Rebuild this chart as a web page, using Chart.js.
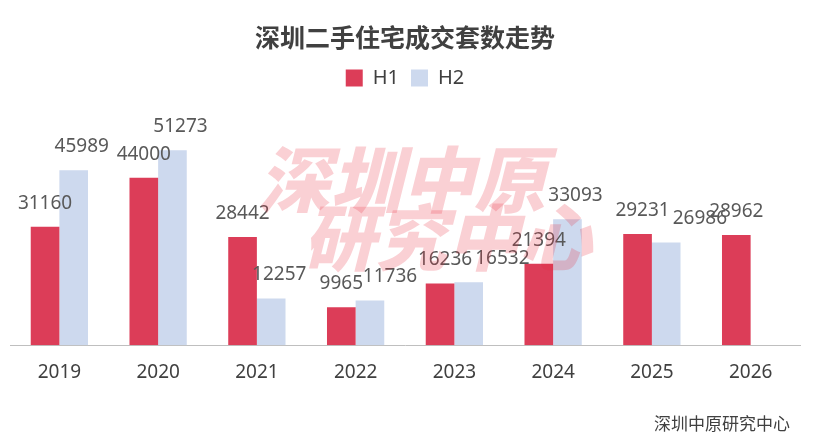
<!DOCTYPE html>
<html><head><meta charset="utf-8">
<script src="https://cdn.jsdelivr.net/npm/chart.js@4"></script>
<style>body{margin:0;background:#fff}</style>
</head><body><canvas id="c" width="815" height="441"></canvas>
<script>
const years = ['2019','2020','2021','2022','2023','2024','2025','2026'];
const h1 = [31160, 44000, 28442, 9965, 16236, 21394, 29231, 28962];
const h2 = [45989, 51273, 12257, 11736, 16532, 33093, 26986, null];

const labelsPlugin = {
  id: 'labels',
  afterDatasetsDraw(chart) {
    const ctx = chart.ctx;
    ctx.save();
    ctx.font = '19px "Noto Sans", sans-serif';
    ctx.fillStyle = '#595959';
    ctx.textAlign = 'center';
    ctx.textBaseline = 'bottom';
    const m1 = chart.getDatasetMeta(0).data, m2 = chart.getDatasetMeta(1).data;
    years.forEach((y, j) => {
      let x1 = m1[j].x, x2 = m2[j].x + 8;
      const y1 = m1[j].y - 14, y2 = m2[j].y - 14;
      if (h2[j] != null && Math.abs(y1 - y2) < 24) {
        if (Math.abs(y1 - y2) > 5 && h1[j] < h2[j]) { x2 += 12; }
        else {
          const w = ctx.measureText(String(h1[j])).width;
          x1 += 5; x2 = Math.max(x2, x1 + w + 3);
        }
      }
      ctx.fillText(h1[j], x1, y1);
      if (h2[j] != null) ctx.fillText(h2[j], x2, y2);
    });
    // watermark
    ctx.globalAlpha = 0.22;
    ctx.fillStyle = '#e8283a';
    ctx.font = 'italic 900 72px "Noto Sans CJK SC", sans-serif';
    ctx.textBaseline = 'middle';
    ctx.fillText('深圳中原', 402, 180);
    ctx.fillText('研究中心', 447, 238);
    ctx.globalAlpha = 1;
    ctx.fillStyle = '#404040';
    ctx.font = '17px "Noto Sans CJK SC", sans-serif';
    ctx.textAlign = 'right';
    ctx.fillText('深圳中原研究中心', 790, 424);
    ctx.restore();
  }
};

new Chart(document.getElementById('c'), {
  type: 'bar',
  data: {
    labels: years,
    datasets: [
      { label: 'H1', data: h1, backgroundColor: '#dc3d58', categoryPercentage: 0.58, barPercentage: 1 },
      { label: 'H2', data: h2, backgroundColor: '#cdd9ee', categoryPercentage: 0.58, barPercentage: 1 }
    ]
  },
  options: {
    responsive: false,
    animation: false,
    layout: { padding: { left: 10, right: 15, bottom: 49, top: 0 } },
    plugins: {
      title: { display: true, text: '深圳二手住宅成交套数走势', color: '#404040',
        font: { size: 25, weight: 'bold', family: '"Noto Sans CJK SC", sans-serif' }, padding: { top: 22, bottom: 4 } },
      legend: { labels: { color: '#404040', boxWidth: 17, boxHeight: 17, padding: 12,
        font: { size: 20, family: '"Noto Sans", sans-serif' } } },
      tooltip: { enabled: false }
    },
    scales: {
      x: { grid: { display: false }, border: { color: '#bfbfbf' },
        ticks: { color: '#404040', padding: 8, font: { size: 19, family: '"Noto Sans", sans-serif' } } },
      y: { display: false, min: 0, max: 65000 }
    }
  },
  plugins: [labelsPlugin]
});
</script>
</body></html>
